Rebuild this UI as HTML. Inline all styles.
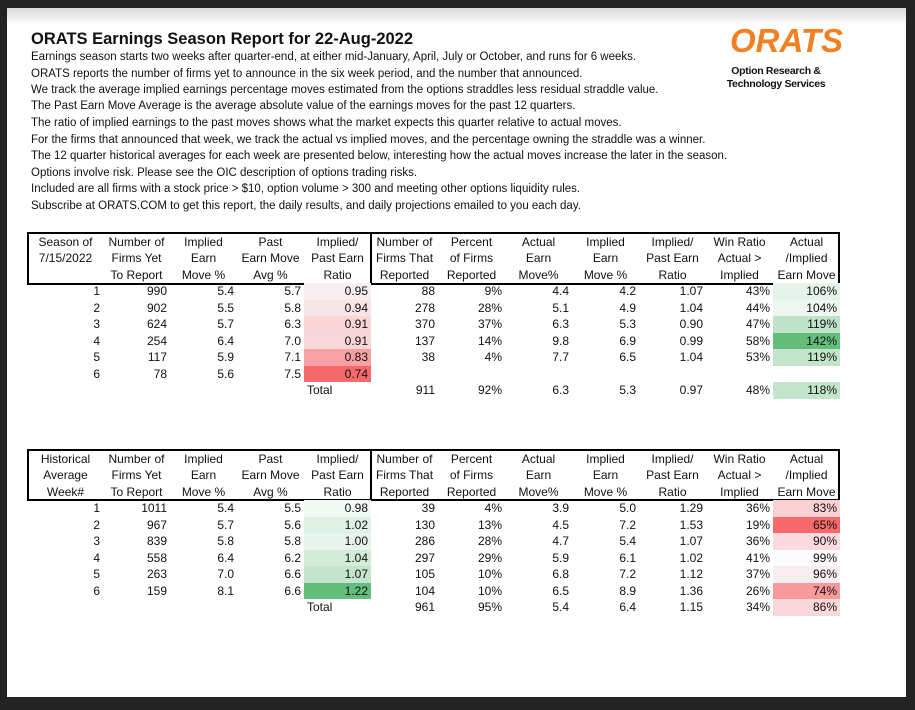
<!DOCTYPE html>
<html><head><meta charset="utf-8"><style>
html,body{margin:0;padding:0;}
body{width:915px;height:710px;background:#232323;position:relative;overflow:hidden;font-family:"Liberation Sans",Arial,sans-serif;color:#111;}
#page{position:absolute;left:7px;top:8px;width:899px;height:689px;background:#fff;}
#grad{position:absolute;left:7px;top:8px;width:899px;height:17px;background:linear-gradient(#d8d8d8,#fff);}
.t{position:absolute;left:31px;font-size:11.5px;white-space:nowrap;}
h1{position:absolute;left:31px;top:30px;margin:0;font-size:16.5px;font-weight:bold;}
.logo{position:absolute;left:730px;top:22px;width:96px;font-size:33px;font-weight:bold;font-style:italic;color:#f28022;letter-spacing:0px;line-height:38px;}
.sub{position:absolute;left:716px;width:120px;text-align:center;font-size:10.5px;font-weight:bold;letter-spacing:-0.3px;}
table{position:absolute;left:28px;border-collapse:collapse;table-layout:fixed;font-size:12px;}
td{padding:0 3px;height:16.5px;line-height:16.5px;text-align:right;white-space:nowrap;}
thead td{text-align:center;padding:0;height:16.4px;line-height:16.4px;}
thead tr.a td{padding-top:1px}
.box{position:absolute;border:2.5px solid #000;box-sizing:border-box;}
.vl{position:absolute;width:1.5px;background:#000;}
</style></head><body>
<div id="page"></div><div id="grad"></div>
<h1>ORATS Earnings Season Report for 22-Aug-2022</h1>
<div class="t" style="top:51px">Earnings season starts two weeks after quarter-end, at either mid-January, April, July or October, and runs for 6 weeks.</div>
<div class="t" style="top:68px">ORATS reports the number of firms yet to announce in the six week period, and the number that announced.</div>
<div class="t" style="top:84px">We track the average implied earnings percentage moves estimated from the options straddles less residual straddle value.</div>
<div class="t" style="top:100px">The Past Earn Move Average is the average absolute value of the earnings moves for the past 12 quarters.</div>
<div class="t" style="top:117px">The ratio of implied earnings to the past moves shows what the market expects this quarter relative to actual moves.</div>
<div class="t" style="top:134px">For the firms that announced that week, we track the actual vs implied moves, and the percentage owning the straddle was a winner.</div>
<div class="t" style="top:150px">The 12 quarter historical averages for each week are presented below, interesting how the actual moves increase the later in the season.</div>
<div class="t" style="top:167px">Options involve risk. Please see the OIC description of options trading risks.</div>
<div class="t" style="top:183px">Included are all firms with a stock price &gt; $10, option volume &gt; 300 and meeting other options liquidity rules.</div>
<div class="t" style="top:200px">Subscribe at ORATS.COM to get this report, the daily results, and daily projections emailed to you each day.</div>
<div class="logo">ORATS</div>
<div class="sub" style="top:65px">Option Research &amp;</div>
<div class="sub" style="top:78px">Technology Services</div>

<div class="box" style="left:27px;top:232px;width:813px;height:53px"></div>
<div class="vl" style="left:370px;top:232px;height:53px"></div>
<table style="top:233px">
<colgroup><col style="width:75px"><col span="11" style="width:67px"></colgroup>
<thead>
<tr class="a"><td>Season of</td><td>Number of</td><td>Implied</td><td>Past</td><td>Implied/</td><td>Number of</td><td>Percent</td><td>Actual</td><td>Implied</td><td>Implied/</td><td>Win Ratio</td><td>Actual</td></tr>
<tr><td>7/15/2022</td><td>Firms Yet</td><td>Earn</td><td>Earn Move</td><td>Past Earn</td><td>Firms That</td><td>of Firms</td><td>Earn</td><td>Earn</td><td>Past Earn</td><td>Actual &gt;</td><td>/Implied</td></tr>
<tr><td></td><td>To Report</td><td>Move %</td><td>Avg %</td><td>Ratio</td><td>Reported</td><td>Reported</td><td>Move%</td><td>Move %</td><td>Ratio</td><td>Implied</td><td>Earn Move</td></tr>
</thead>
<tbody>
<tr><td>1</td><td>990</td><td>5.4</td><td>5.7</td><td style="background:#f6eef0">0.95</td><td>88</td><td>9%</td><td>4.4</td><td>4.2</td><td>1.07</td><td>43%</td><td style="background:#e6f3ea">106%</td></tr>
<tr><td>2</td><td>902</td><td>5.5</td><td>5.8</td><td style="background:#f8e4e7">0.94</td><td>278</td><td>28%</td><td>5.1</td><td>4.9</td><td>1.04</td><td>44%</td><td style="background:#eef6f0">104%</td></tr>
<tr><td>3</td><td>624</td><td>5.7</td><td>6.3</td><td style="background:#f9d5d8">0.91</td><td>370</td><td>37%</td><td>6.3</td><td>5.3</td><td>0.90</td><td>47%</td><td style="background:#bfe3c9">119%</td></tr>
<tr><td>4</td><td>254</td><td>6.4</td><td>7.0</td><td style="background:#f9d6d9">0.91</td><td>137</td><td>14%</td><td>9.8</td><td>6.9</td><td>0.99</td><td>58%</td><td style="background:#63be7b">142%</td></tr>
<tr><td>5</td><td>117</td><td>5.9</td><td>7.1</td><td style="background:#f8a0a3">0.83</td><td>38</td><td>4%</td><td>7.7</td><td>6.5</td><td>1.04</td><td>53%</td><td style="background:#c1e4ca">119%</td></tr>
<tr><td>6</td><td>78</td><td>5.6</td><td>7.5</td><td style="background:#f8696b">0.74</td><td></td><td></td><td></td><td></td><td></td><td></td><td></td></tr>
<tr><td></td><td></td><td></td><td></td><td style="text-align:left">Total</td><td>911</td><td>92%</td><td>6.3</td><td>5.3</td><td>0.97</td><td>48%</td><td style="background:#c3e5cc">118%</td></tr>
</tbody></table>

<div class="box" style="left:27px;top:449px;width:813px;height:52px"></div>
<div class="vl" style="left:370px;top:449px;height:52px"></div>
<table style="top:450px">
<colgroup><col style="width:75px"><col span="11" style="width:67px"></colgroup>
<thead>
<tr class="a"><td>Historical</td><td>Number of</td><td>Implied</td><td>Past</td><td>Implied/</td><td>Number of</td><td>Percent</td><td>Actual</td><td>Implied</td><td>Implied/</td><td>Win Ratio</td><td>Actual</td></tr>
<tr><td>Average</td><td>Firms Yet</td><td>Earn</td><td>Earn Move</td><td>Past Earn</td><td>Firms That</td><td>of Firms</td><td>Earn</td><td>Earn</td><td>Past Earn</td><td>Actual &gt;</td><td>/Implied</td></tr>
<tr><td>Week#</td><td>To Report</td><td>Move %</td><td>Avg %</td><td>Ratio</td><td>Reported</td><td>Reported</td><td>Move%</td><td>Move %</td><td>Ratio</td><td>Implied</td><td>Earn Move</td></tr>
</thead>
<tbody>
<tr><td>1</td><td>1011</td><td>5.4</td><td>5.5</td><td style="background:#f2f8f4">0.98</td><td>39</td><td>4%</td><td>3.9</td><td>5.0</td><td>1.29</td><td>36%</td><td style="background:#fad0d3">83%</td></tr>
<tr><td>2</td><td>967</td><td>5.7</td><td>5.6</td><td style="background:#dff0e4">1.02</td><td>130</td><td>13%</td><td>4.5</td><td>7.2</td><td>1.53</td><td>19%</td><td style="background:#f8696b">65%</td></tr>
<tr><td>3</td><td>839</td><td>5.8</td><td>5.8</td><td style="background:#e8f4eb">1.00</td><td>286</td><td>28%</td><td>4.7</td><td>5.4</td><td>1.07</td><td>36%</td><td style="background:#fbdadd">90%</td></tr>
<tr><td>4</td><td>558</td><td>6.4</td><td>6.2</td><td style="background:#d3ecd9">1.04</td><td>297</td><td>29%</td><td>5.9</td><td>6.1</td><td>1.02</td><td>41%</td><td style="background:#fcfcfe">99%</td></tr>
<tr><td>5</td><td>263</td><td>7.0</td><td>6.6</td><td style="background:#c4e5cc">1.07</td><td>105</td><td>10%</td><td>6.8</td><td>7.2</td><td>1.12</td><td>37%</td><td style="background:#f8eef1">96%</td></tr>
<tr><td>6</td><td>159</td><td>8.1</td><td>6.6</td><td style="background:#63be7b">1.22</td><td>104</td><td>10%</td><td>6.5</td><td>8.9</td><td>1.36</td><td>26%</td><td style="background:#f8999c">74%</td></tr>
<tr><td></td><td></td><td></td><td></td><td style="text-align:left">Total</td><td>961</td><td>95%</td><td>5.4</td><td>6.4</td><td>1.15</td><td>34%</td><td style="background:#f9d8db">86%</td></tr>
</tbody></table>
</body></html>
